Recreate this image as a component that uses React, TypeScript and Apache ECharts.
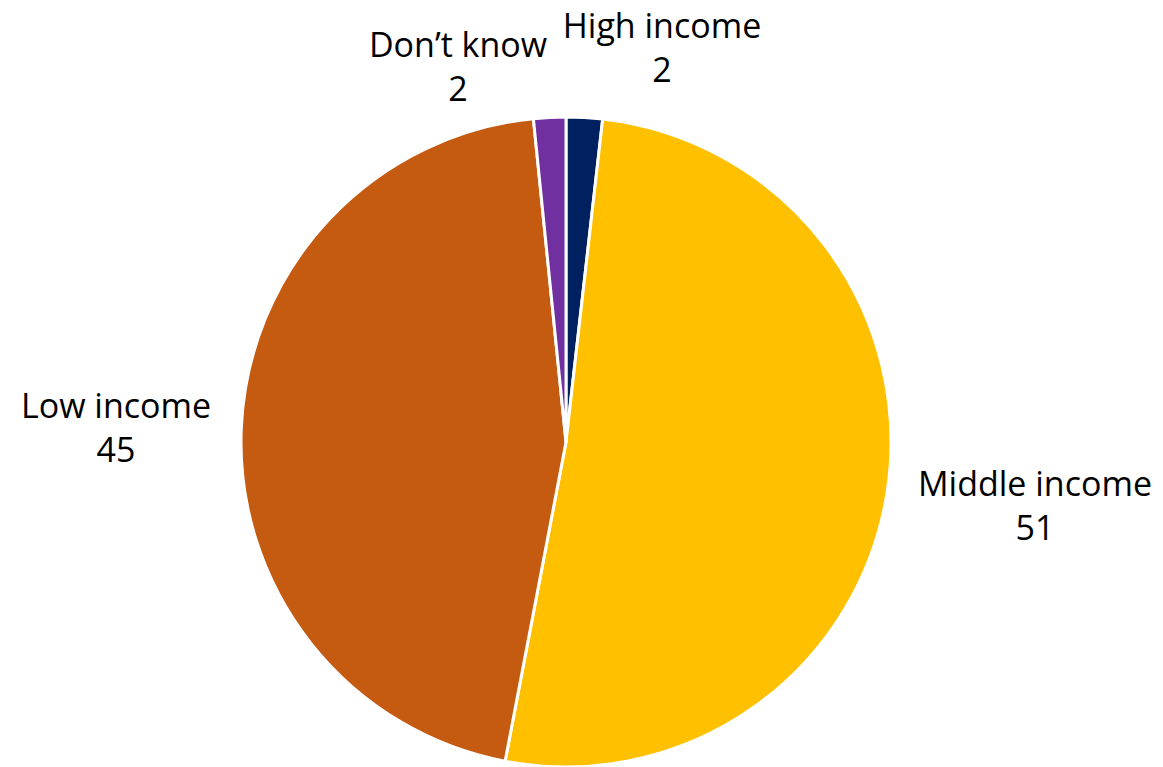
import React, { useEffect, useRef } from "react";
import * as echarts from "echarts";

const categories = ["High income", "Middle income", "Low income", "Don\u2019t know"];
// slice sizes; labels show the rounded values
const values = [1.8, 51.2, 45.4, 1.6];
const valueLabels = ["2", "51", "45", "2"];
const colors = ["#002060", "#FFC000", "#C55A11", "#7030A0"];
// label block centres (text placement, pixels)
const labelAnchors: [number, number][] = [
  [662, 47],
  [1035, 505],
  [116, 427],
  [458, 66],
];

export default function App() {
  const ref = useRef<HTMLDivElement>(null);
  useEffect(() => {
    const chart = echarts.init(ref.current!, undefined, { renderer: "svg" });
    chart.setOption({
      animation: false,
      backgroundColor: "#ffffff",
      series: [
        {
          type: "pie",
          center: [566, 442],
          radius: 325,
          startAngle: 90,
          clockwise: true,
          data: categories.map((name, i) => ({
            name,
            value: values[i],
            itemStyle: { color: colors[i] },
          })),
          itemStyle: { borderColor: "#ffffff", borderWidth: 3 },
          label: {
            show: true,
            position: "outside",
            alignTo: "none",
            overflow: "none",
            formatter: (p: any) => `${p.name}\n${valueLabels[p.dataIndex]}`,
            color: "#000000",
            fontSize: 34,
            lineHeight: 44,
            fontFamily: "Open Sans",
            align: "center",
          },
          labelLine: { show: false },
          labelLayout: (p: any) => ({
            x: labelAnchors[p.dataIndex][0],
            y: labelAnchors[p.dataIndex][1],
            align: "center",
            verticalAlign: "middle",
            width: 400,
          }),
        },
      ],
    });
    return () => chart.dispose();
  }, []);
  return <div ref={ref} style={{ position: "fixed", left: 0, top: 0, width: 1163, height: 767 }} />;
}
